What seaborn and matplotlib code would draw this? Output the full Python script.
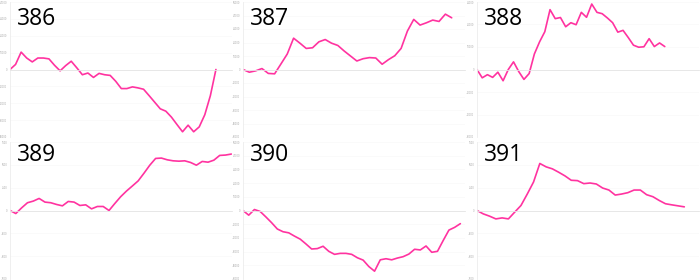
import numpy as np
import pandas as pd
import matplotlib
matplotlib.use("Agg")
import matplotlib.pyplot as plt
import seaborn as sns

# ---- data ----
titles = ["386", "387", "388", "389", "390", "391"]

s386 = [0, 3000, 10300, 6800, 4500, 6800, 6800, 6300, 2500, -800, 2300, 4900, 1000,
        -3100, -2100, -4700, -2300, -3100, -3500, -7000, -11300, -11300, -10300,
        -10900, -11700, -15500, -19400, -23300, -24700, -28200, -32600, -36900,
        -33000, -36900, -34000, -26800, -15500, 0]
s387 = [0, -2000, -1000, 700, -2900, -3200, 4100, 11500, 23200, 19500, 15600, 16100,
        20500, 22200, 19500, 17800, 13700, 10000, 6300, 8000, 8800, 8500, 3900, 7300,
        10200, 15600, 28500, 37100, 32900, 34600, 36600, 35600, 41000, 38300]
s388 = [0, -3700, -2300, -3500, -1200, -5000, 0, 3400, -900, -4400, -1800, 6900,
        12300, 16800, 26600, 22600, 23100, 19000, 20800, 19900, 25400, 23200, 29100,
        25400, 24800, 22900, 20800, 16600, 17400, 14200, 10800, 9900, 10100, 13700,
        10200, 11800, 10200]
s389 = [0, -330, 290, 850, 1030, 1320, 920, 850, 660, 510, 990, 920, 550, 620, 180,
        440, 440, 0, 770, 1510, 2130, 2680, 3240, 4080, 4960, 5700, 5740, 5550, 5440,
        5400, 5440, 5260, 4960, 5370, 5290, 5510, 6030, 6070, 6180]
s390 = [0, -3400, 700, -700, -4700, -8900, -13500, -15500, -16300, -18700, -20900,
        -24400, -28100, -27800, -26100, -29800, -32000, -31300, -31300, -32000,
        -34500, -36200, -40900, -44300, -36000, -35200, -36000, -34700, -33700,
        -31800, -28300, -28800, -25900, -30500, -29800, -21900, -14300, -12300, -9600]
s391 = [0, -370, -620, -920, -810, -920, -180, 550, 1800, 3120, 5150, 4780, 4560,
        4190, 3790, 3310, 3270, 2940, 3010, 2900, 2460, 2240, 1690, 1800, 1950, 2240,
        2240, 1730, 1510, 1100, 740, 620, 510, 400]

series = [s386, s387, s388, s389, s390, s391]

# y-axis limits and tick steps per panel
y_limits = [40000, 50000, 30000, 7500, 50000, 7500]
y_steps = [10000, 10000, 10000, 2500, 10000, 2500]

# ---- layout ----
W, H = 700, 280
lefts = [10, 243, 477]
width_px = 222
rows = [(2, 137), (142, 279)]
x_end_ratio = [663 / 615, 667 / 627, 668 / 565, 662 / 660, 669 / 655, 665 / 621]
x_intervals = [6, 5, 6, 5, 6, 6]

LINE = "#ff33a0"

sns.set_style("white")
plt.rcParams["font.family"] = ["Open Sans", "DejaVu Sans"]

fig = plt.figure(figsize=(W / 100, H / 100), dpi=100)

for i, (title, vals) in enumerate(zip(titles, series)):
    r, c = divmod(i, 3)
    top, bot = rows[r]
    ax = fig.add_axes([lefts[c] / W, 1 - bot / H, width_px / W, (bot - top) / H])
    df = pd.DataFrame({"x": np.arange(len(vals)), "y": vals})
    sns.lineplot(data=df, x="x", y="y", ax=ax, color=LINE, linewidth=1.2)
    x_end = (len(vals) - 1) * x_end_ratio[i]
    ax.set_xlim(0, x_end)
    lim = y_limits[i]
    ax.set_ylim(-lim, lim)
    ax.set_xticks(np.linspace(0, x_end, x_intervals[i] + 1))
    ax.set_xticklabels([])
    yt = np.arange(-lim, lim + 1, y_steps[i])
    ax.set_yticks(yt)
    ax.set_yticklabels([f"{int(v)}" for v in yt], fontsize=1.8, color="#a0a0a0")
    ax.set_xlabel("")
    ax.set_ylabel("")
    ax.patch.set_alpha(0)
    ax.grid(axis="y", color="#f8f8f8", linewidth=0.5)
    ax.set_axisbelow(True)
    for s in ["top", "right"]:
        ax.spines[s].set_visible(False)
    ax.spines["left"].set_color("#ececec")
    ax.spines["left"].set_linewidth(0.6)
    ax.spines["bottom"].set_position(("data", 0))
    ax.spines["bottom"].set_color("#e4e4e4")
    ax.spines["bottom"].set_linewidth(0.6)
    ax.tick_params(axis="x", length=1.5, width=0.6, color="#c8c8c8", direction="inout")
    ax.tick_params(axis="y", length=1.2, width=0.5, color="#dddddd", pad=0.8)
    ax.text(0.03, 0.965 if r == 0 else 0.995, title, transform=ax.transAxes,
            ha="left", va="top", fontsize=16.5, color="black")

fig.savefig("out.png", dpi=100)
